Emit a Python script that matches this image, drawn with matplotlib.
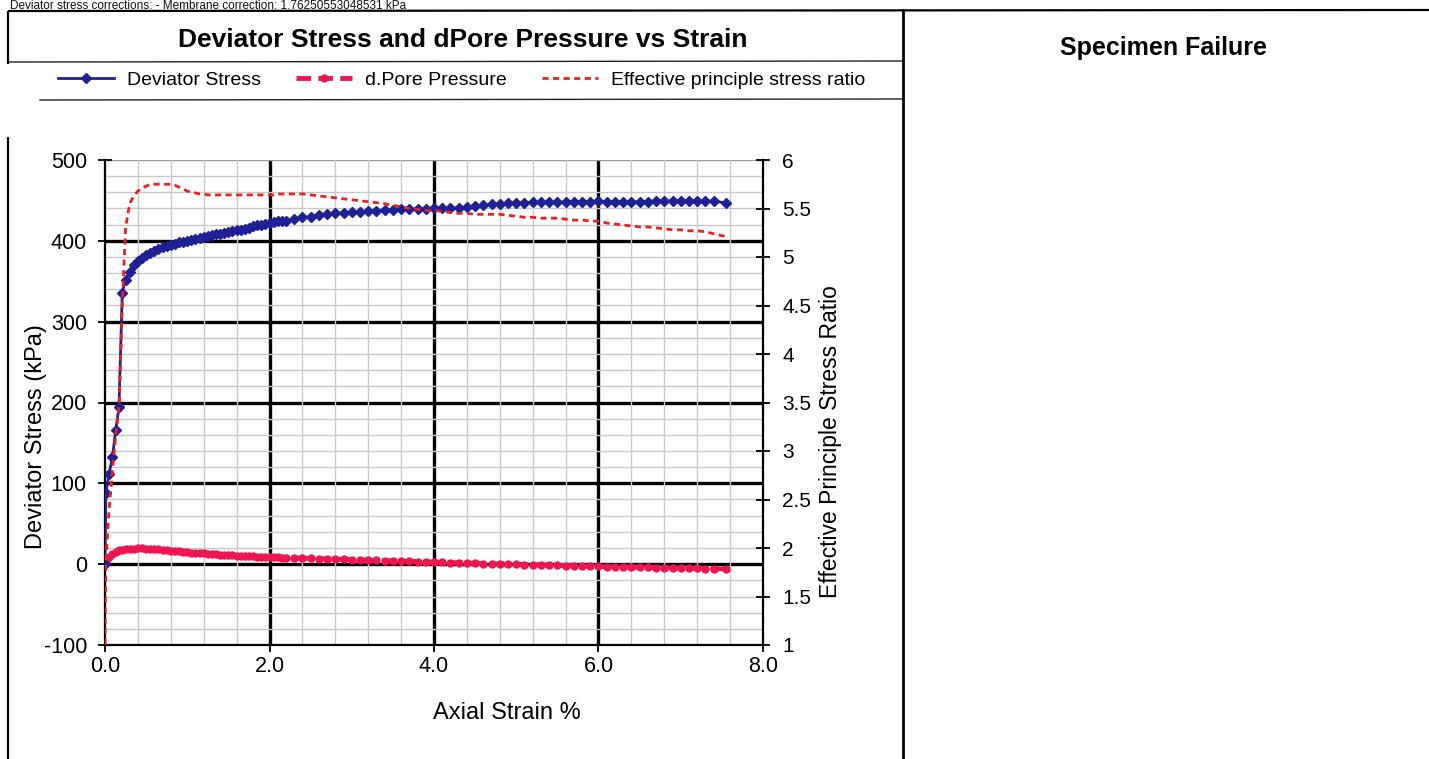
import matplotlib
matplotlib.use("Agg")
import matplotlib.pyplot as plt
from matplotlib.ticker import MultipleLocator, FixedLocator

plt.rcParams['font.family'] = ['Liberation Sans', 'DejaVu Sans']
plt.rcParams['axes.unicode_minus'] = False

# Axial strain (%) at each reading
strain = [0.0, 0.01, 0.05, 0.09, 0.13, 0.17, 0.21, 0.25,
          0.30, 0.35, 0.40, 0.45, 0.50, 0.55, 0.60, 0.65, 0.70, 0.75,
          0.80, 0.85, 0.90, 0.95, 1.00, 1.05, 1.10, 1.15, 1.20, 1.25,
          1.30, 1.35, 1.40, 1.45, 1.50, 1.55, 1.60, 1.65, 1.70, 1.75,
          1.80, 1.85, 1.90, 1.95, 2.00, 2.05, 2.10, 2.15, 2.20,
          2.3, 2.4, 2.5, 2.6, 2.7, 2.8, 2.9, 3.0, 3.1, 3.2, 3.3, 3.4,
          3.5, 3.6, 3.7, 3.8, 3.9, 4.0, 4.1, 4.2, 4.3, 4.4, 4.5, 4.6,
          4.7, 4.8, 4.9, 5.0, 5.1, 5.2, 5.3, 5.4, 5.5, 5.6, 5.7, 5.8,
          5.9, 6.0, 6.1, 6.2, 6.3, 6.4, 6.5, 6.6, 6.7, 6.8, 6.9, 7.0,
          7.1, 7.2, 7.3, 7.4, 7.55]

# Deviator stress (kPa)
deviator = [0, 88, 112, 132, 166, 194, 336, 352,
            362, 370, 375, 379, 382, 385, 388, 390, 392, 394,
            395, 396, 398, 399, 400, 401, 402, 403, 405, 406,
            407, 408, 409, 410, 411, 412, 413, 414, 415, 416,
            418, 419, 420, 421, 422, 423, 424, 424.5, 425,
            427, 429, 430, 432, 433, 434, 435, 435.5, 436, 437, 437.5, 438,
            438.5, 439, 439, 439.5, 439.5, 440, 440, 440.5, 441, 442, 443, 444,
            445, 446, 446.5, 447, 447, 447.5, 447.5, 448, 448, 448, 448.5, 448.5,
            448.5, 449, 448.5, 448.5, 448.5, 448, 448.5, 448.5, 449, 449, 449.5, 449.5,
            449.5, 449, 449, 449, 447]

# Change in pore pressure (kPa)
pore = [0, 3, 9, 13, 15.5, 17, 18, 18.5,
        19, 19.3, 19.5, 19.5, 19.3, 19, 18.6, 18.2, 17.8, 17.3,
        16.8, 16.3, 15.8, 15.3, 14.8, 14.4, 14.0, 13.6, 13.2, 12.8,
        12.4, 12.0, 11.7, 11.4, 11.1, 10.8, 10.5, 10.2, 10.0, 9.8,
        9.6, 9.4, 9.2, 9.0, 8.8, 8.6, 8.4, 8.2, 8.0,
        7.7, 7.4, 7.1, 6.8, 6.5, 6.2, 5.9, 5.6, 5.3, 5.0, 4.7, 4.4,
        4.1, 3.8, 3.5, 3.2, 2.9, 2.6, 2.3, 2.0, 1.7, 1.4, 1.1, 0.8,
        0.5, 0.2, 0.0, -0.3, -0.5, -0.8, -1.0, -1.3, -1.5, -1.8, -2.0, -2.3,
        -2.5, -2.8, -3.0, -3.2, -3.4, -3.6, -3.8, -4.0, -4.2, -4.4, -4.6, -4.8,
        -5.0, -5.2, -5.4, -5.6, -5.8]

# Effective principal stress ratio
ratio = [1.0, 1.85, 2.4, 2.8, 3.15, 3.45, 4.5, 5.3,
         5.55, 5.63, 5.68, 5.71, 5.73, 5.75, 5.75, 5.75, 5.75, 5.75,
         5.75, 5.74, 5.72, 5.70, 5.68, 5.67, 5.66, 5.65, 5.65, 5.64,
         5.64, 5.64, 5.64, 5.64, 5.64, 5.64, 5.64, 5.64, 5.64, 5.64,
         5.64, 5.64, 5.64, 5.64, 5.64, 5.64, 5.65, 5.65, 5.65,
         5.65, 5.65, 5.64, 5.63, 5.62, 5.61, 5.60, 5.59, 5.58, 5.57, 5.56, 5.55,
         5.53, 5.52, 5.50, 5.49, 5.48, 5.48, 5.47, 5.46, 5.45, 5.45, 5.44, 5.44,
         5.44, 5.44, 5.43, 5.42, 5.41, 5.41, 5.40, 5.40, 5.40, 5.39, 5.38, 5.38,
         5.37, 5.37, 5.35, 5.34, 5.33, 5.32, 5.31, 5.31, 5.30, 5.29, 5.28, 5.28,
         5.27, 5.27, 5.26, 5.24, 5.21]

title = "Deviator Stress and dPore Pressure vs Strain"
side_title = "Specimen Failure"
header = "Deviator stress corrections: - Membrane correction: 1.76250553048531 kPa"
xticks = [0.0, 2.0, 4.0, 6.0, 8.0]
xtick_labels = ["0.0", "2.0", "4.0", "6.0", "8.0"]
yticks = [-100, 0, 100, 200, 300, 400, 500]
rticks = [1, 1.5, 2, 2.5, 3, 3.5, 4, 4.5, 5, 5.5, 6]
rtick_labels = ["1", "1.5", "2", "2.5", "3", "3.5", "4", "4.5", "5", "5.5", "6"]

BLUE = "#1f1f96"
PINK = "#ee1550"
RED = "#e8201e"

W, H = 1429, 759
fig = plt.figure(figsize=(W / 100, H / 100), dpi=100)
fig.patch.set_facecolor("white")

# page frame drawn in pixel coordinates
frame = fig.add_axes([0, 0, 1, 1], zorder=0)
frame.set_xlim(0, W)
frame.set_ylim(H, 0)
frame.axis("off")
fk = dict(color="black", lw=1.6, solid_capstyle="butt")
frame.plot([8, W], [11, 10], **fk)
frame.plot([8, 8], [11, 64], **fk)
frame.plot([8, 8], [137, H], **fk)
frame.plot([8, 903], [62, 61], color="#222222", lw=1.0)
frame.plot([40, 903], [100, 99], color="#222222", lw=1.0)
frame.plot([903, 903], [10, H], color="black", lw=2.0)

fig.text(10 / W, 1 - 9 / H, header, fontsize=8.5, va="baseline", ha="left",
         color="#111111")
fig.text(463 / W, 1 - 40 / H, title, fontsize=19, fontweight="bold",
         ha="center", va="center")
fig.text(1163 / W, 1 - 48 / H, side_title, fontsize=18, fontweight="bold",
         ha="center", va="center")

# main chart
ax = fig.add_axes([105 / W, 1 - 645 / H, 658 / W, 485 / H], zorder=2)
ax.set_xlim(0, 8)
ax.set_ylim(-100, 500)
ax.set_facecolor("none")

# grid
ax.xaxis.set_minor_locator(MultipleLocator(0.4))
ax.yaxis.set_minor_locator(MultipleLocator(20))
ax.grid(which="minor", color="#c9c9c9", lw=1.0)
for gx in [2, 4, 6]:
    ax.axvline(gx, color="black", lw=2.4, zorder=1)
for gy in [0, 100, 200, 300, 400]:
    ax.axhline(gy, color="black", lw=2.4, zorder=1)
ax.axhline(500, color="#9a9a9a", lw=1.0, zorder=1)

ax.set_xticks(xticks)
ax.set_xticklabels(xtick_labels)
ax.set_yticks(yticks)
ax.tick_params(axis="both", which="major", direction="inout", length=10,
               width=1.3, labelsize=15.5)
ax.tick_params(axis="x", pad=3)
ax.tick_params(axis="y", pad=8)
ax.tick_params(which="minor", length=0)
for s in ["left", "bottom"]:
    ax.spines[s].set_linewidth(1.6)
ax.spines["top"].set_visible(False)
ax.spines["right"].set_visible(False)

l1, = ax.plot(strain, deviator, color=BLUE, lw=2.0, marker="D",
              markersize=5, zorder=4, label="Deviator Stress")
l2, = ax.plot(strain, pore, color=PINK, lw=3.5, ls=(0, (3, 1.5)), marker="o",
              markersize=6, markeredgewidth=0, zorder=3,
              label="d.Pore Pressure")

ax.set_xlabel("Axial Strain %", fontsize=17)
ax.xaxis.set_label_coords((507 - 105) / 658, -(702 - 645) / 485)
ax.set_ylabel("Deviator Stress (kPa)", fontsize=17)
ax.yaxis.set_label_coords((47 - 105) / 658, (645 - 437) / 485)

# secondary axis: stress ratio
ax2 = ax.twinx()
ax2.set_zorder(3)
ax2.set_ylim(1, 6)
ax2.yaxis.set_major_locator(FixedLocator(rticks))
ax2.set_yticklabels(rtick_labels)
ax2.tick_params(axis="y", direction="inout", length=10, width=1.3,
                labelsize=15, pad=9)
ax2.spines["right"].set_linewidth(1.6)
for s in ["left", "top", "bottom"]:
    ax2.spines[s].set_visible(False)
l3, = ax2.plot(strain, ratio, color=RED, lw=2.0, ls=(0, (2.2, 1.6)),
               label="Effective principle stress ratio")
ax2.set_ylabel("Effective Principle Stress Ratio", fontsize=16.5)
ax2.yaxis.set_label_coords((819 - 105) / 658, (645 - 442) / 485)

fig.legend(handles=[l1, l2, l3], loc="center left",
           bbox_to_anchor=(50 / W, 1 - 80 / H), ncol=3, frameon=False,
           fontsize=14, handlelength=2.9, columnspacing=1.8,
           handletextpad=0.65, borderaxespad=0)

fig.savefig("out.png", dpi=100)
